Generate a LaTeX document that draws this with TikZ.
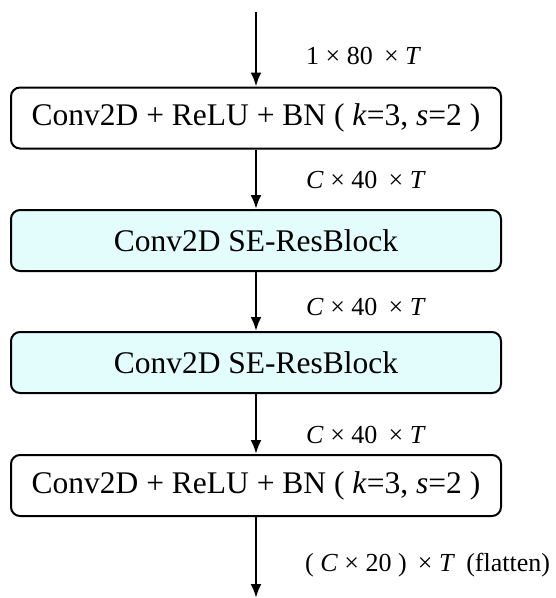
\documentclass[tikz,border=0pt]{standalone}
\usepackage{fontspec}
\setmainfont{Liberation Serif}
\usetikzlibrary{arrows.meta}
\definecolor{secfill}{HTML}{E3FDFD}
\tikzset{
  blk/.style={draw=black, line width=2pt, rounded corners=9pt,
    minimum width=490pt, minimum height=61pt, inner sep=0pt,
    font=\fontsize{31.5}{36}\selectfont},
  plainblk/.style={blk, fill=white},
  seblk/.style={blk, fill=secfill},
  flow/.style={line width=2.4pt, -{Latex[length=14pt,width=11pt]}},
  dimlbl/.style={anchor=base west, inner sep=0pt, font=\fontsize{26}{30}\selectfont}
}
\newcommand{\gapx}{\hspace{0.18em}}
\begin{document}
\begin{tikzpicture}[x=1pt,y=-1pt]
\useasboundingbox (0,0) rectangle (556,598);

% processing blocks
\node[plainblk] (c1)  at (256,118)   {Conv2D + ReLU + BN ( \textit{k}=3, \textit{s}=2 )};
\node[seblk]    (se1) at (256,240.5) {Conv2D SE-ResBlock};
\node[seblk]    (se2) at (256,362.5) {Conv2D SE-ResBlock};
\node[plainblk] (c2)  at (256,485.5) {Conv2D + ReLU + BN ( \textit{k}=3, \textit{s}=2 )};

% input and output ends
\coordinate (in)  at (256,12);
\coordinate (out) at (256,598);

% data flow
\draw[flow] (in)  -- (c1);
\draw[flow] (c1)  -- (se1);
\draw[flow] (se1) -- (se2);
\draw[flow] (se2) -- (c2);
\draw[flow] (c2)  -- (out);

% tensor shapes
\node[dimlbl] (d0) at (306,64)  {1 × 80\gapx{} × \textit{T}};
\node[dimlbl] (d1) at (306,188) {\textit{C} × 40\gapx{} × \textit{T}};
\node[dimlbl] (d2) at (306,315) {\textit{C} × 40\gapx{} × \textit{T}};
\node[dimlbl] (d3) at (306,443) {\textit{C} × 40\gapx{} × \textit{T}};
\node[dimlbl] (d4) at (305,571) {( \textit{C} × 20 )\gapx{} × \textit{T}\gapx{} (flatten)};
\end{tikzpicture}
\end{document}
